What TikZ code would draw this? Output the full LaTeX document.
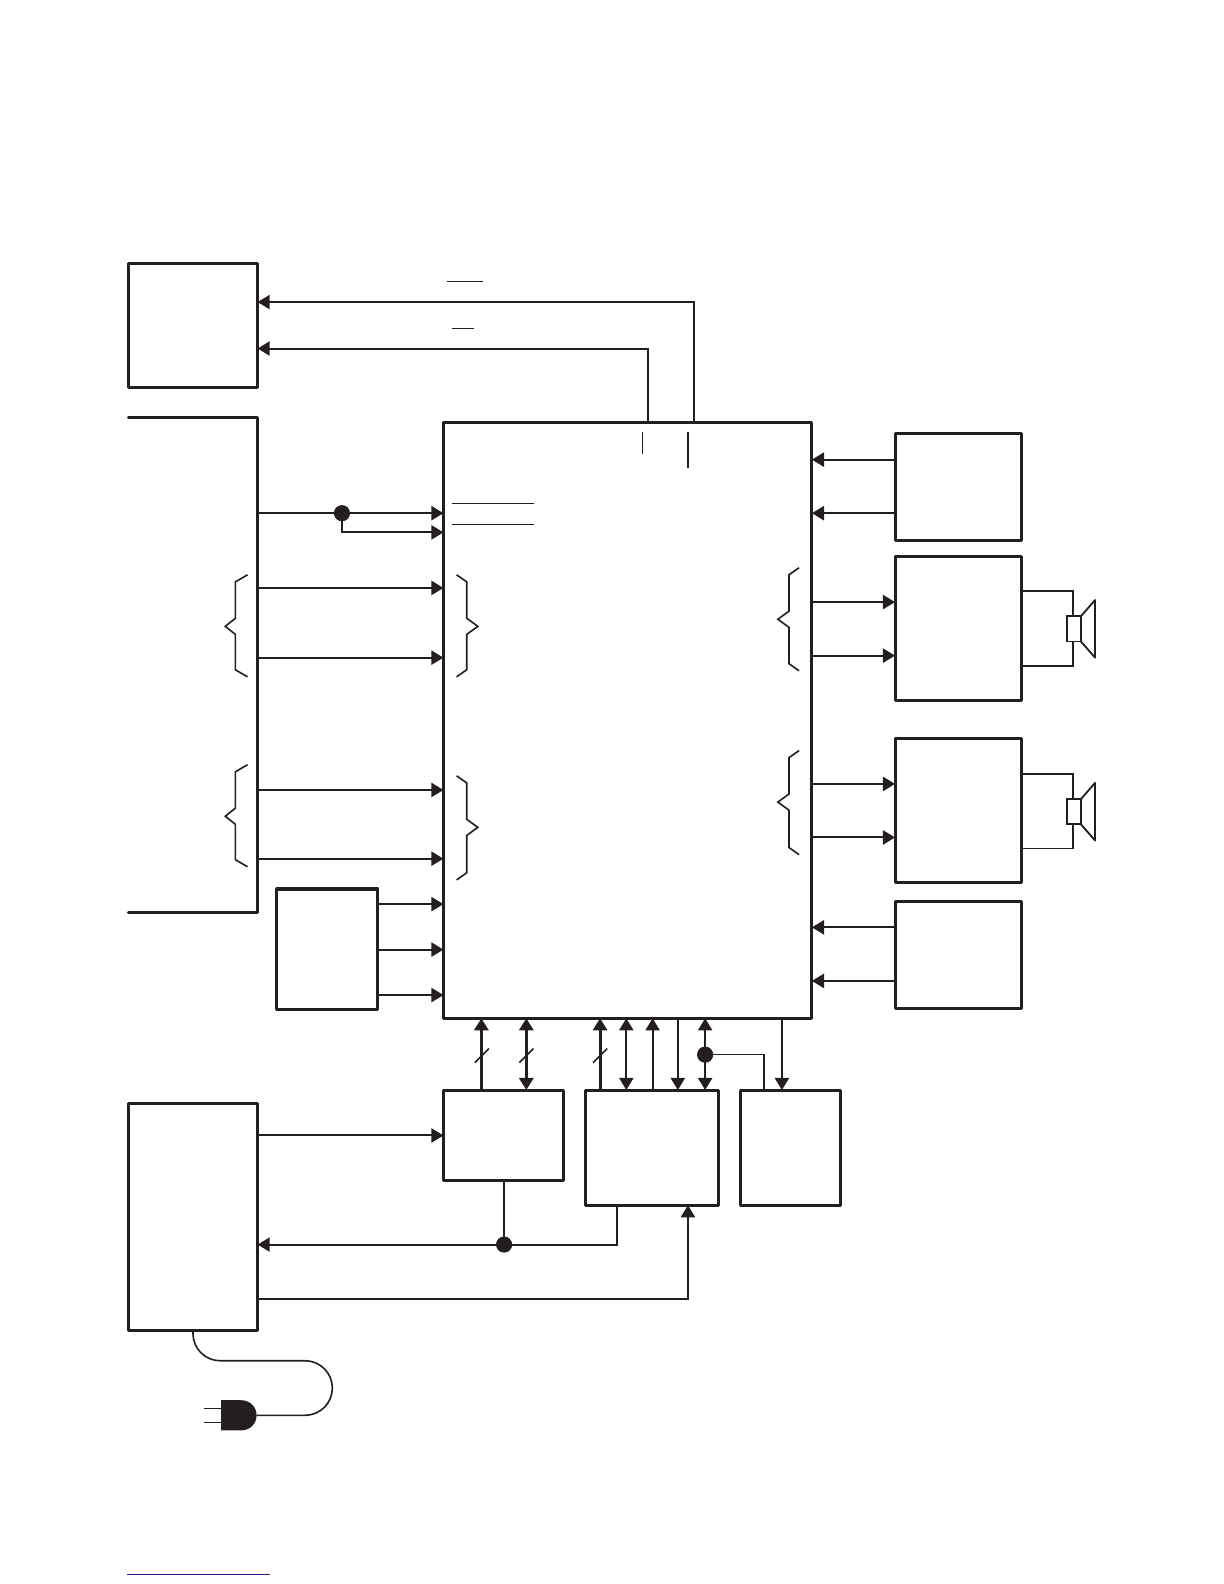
\documentclass[tikz,border=0pt]{standalone}
\usetikzlibrary{arrows.meta}
\definecolor{ink}{HTML}{231F20}
\tikzset{
  boxnode/.style={draw=ink,line width=3pt,line join=round,inner sep=0pt,outer sep=0pt,rectangle},
  wire/.style={draw=ink,line width=2pt,line join=miter},
  heavy/.style={draw=ink,line width=3pt},
  fine/.style={draw=ink,line width=1.1pt},
  brace/.style={draw=ink,line width=1.6pt,line join=miter},
  tipend/.style={-{Triangle[length=12pt,width=14pt]}},
  tipboth/.style={{Triangle[length=12pt,width=14pt]}-{Triangle[length=12pt,width=14pt]}},
  jointdot/.style={circle,fill=ink,draw=none,minimum size=16pt,inner sep=0pt,outer sep=0pt}
}
\newcommand{\bx}[5]{\node[boxnode,minimum width={(#4-#2)*1pt},minimum height={(#5-#3)*1pt}] (#1) at ({(#2+#4)/2},{(#3+#5)/2}) {};}
% left-opening brace: x tip, x spine, x end, y top, y middle, y bottom
\newcommand{\brc}[6]{\draw[brace] (#3,#4) -- (#2,{#4+7}) -- (#2,{#5-8}) -- (#1,#5) -- (#2,{#5+8}) -- (#2,{#6-7}) -- (#3,#6);}
\newcommand{\speaker}[3]{%
  \draw[wire,line width=1.6pt] (#1.east |- 0,{#2}) -- (1062,#2) -- (1062,{#2+25});
  \draw[wire,line width=1.6pt] (#1.east |- 0,{#3}) -- (1062,#3) -- (1062,{#3-24});
  \draw[draw=ink,line width=1.8pt] (1056,{#2+25}) rectangle (1070,{#3-24});
  \draw[draw=ink,line width=1.8pt,line join=round] (1070,{#2+25}) -- (1084,{#2+9}) -- (1084,{#3-8}) -- (1070,{#3-24});
}
\begin{document}
\begin{tikzpicture}[x=1pt,y=-1pt]
\useasboundingbox (0,0) rectangle (1211.6,1568);
% blocks
\bx{topbox}{127}{261}{255}{383.6}
\bx{main}{439}{418}{803.7}{1008}
\bx{cbox}{274}{880}{374}{999}
\bx{dbox}{886}{429}{1011}{535}
\bx{ebox}{886}{551}{1011}{693}
\bx{fbox}{886}{731}{1011}{874}
\bx{gbox}{886}{892}{1011}{998}
\bx{hbox}{439}{1079}{558}{1168.5}
\bx{ibox}{580}{1079}{711.7}{1193}
\bx{jbox}{733}{1079}{832}{1193}
\bx{kbox}{127}{1092}{255}{1317}
% open block on the left
\coordinate (bTL) at (127,413);
\coordinate (bTR) at (255,413);
\coordinate (bBR) at (255,903);
\coordinate (bBL) at (127,903);
\draw[heavy,line join=round,line cap=round] (bTL) -- (bTR) -- (bBR) -- (bBL);
% top lines to the first block
\draw[wire,tipend] (main.north -| 687,0) -- (687,299) -- (topbox.east |- 0,299);
\draw[wire,tipend] (main.north -| 641,0) -- (641,345) -- (topbox.east |- 0,345);
% bars and overlines
\draw[fine] (442,279) -- (478,279);
\draw[fine] (447,325) -- (469,325);
\draw[fine] (636,428) -- (636,449);
\draw[fine] (681,428) -- (681,463);
\draw[fine] (447,498) -- (529,498);
\draw[fine] (447,519) -- (529,519);
% open block to main
\node[jointdot] (d1) at (338.5,508) {};
\draw[wire,tipend] (bTR |- d1) -- (main.west |- d1);
\draw[wire,tipend] (d1.center) -- (338.5,527) -- (main.west |- 0,527);
\foreach \yy in {582,651,782,850}{\draw[wire,tipend] (bTR |- 0,\yy) -- (main.west |- 0,\yy);}
\foreach \yy in {895,940,985}{\draw[wire,tipend] (cbox.east |- 0,\yy) -- (main.west |- 0,\yy);}
% braces
\brc{223}{233}{245}{569}{620}{670}
\brc{223}{233}{245}{757}{808}{858}
\brc{473}{462}{452}{569}{620}{670}
\brc{473}{462}{452}{768}{819}{871}
\brc{770}{781}{791}{562}{613}{664}
\brc{770}{781}{791}{743}{794}{846}
% right blocks
\foreach \yy in {455,508}{\draw[wire,tipend] (dbox.west |- 0,\yy) -- (main.east |- 0,\yy);}
\foreach \yy in {596,649}{\draw[wire,tipend] (main.east |- 0,\yy) -- (ebox.west |- 0,\yy);}
\foreach \yy in {776,829}{\draw[wire,tipend] (main.east |- 0,\yy) -- (fbox.west |- 0,\yy);}
\foreach \yy in {918,971}{\draw[wire,tipend] (gbox.west |- 0,\yy) -- (main.east |- 0,\yy);}
\speaker{ebox}{585}{659}
\speaker{fbox}{766}{840}
% bottom buses
\draw[heavy,tipend] (hbox.north -| 476.5,0) -- (main.south -| 476.5,0);
\draw[heavy,tipboth] (main.south -| 521,0) -- (hbox.north -| 521,0);
\draw[heavy,tipend] (ibox.north -| 594,0) -- (main.south -| 594,0);
\draw[wire,tipboth] (main.south -| 620,0) -- (ibox.north -| 620,0);
\draw[wire,tipend] (ibox.north -| 646,0) -- (main.south -| 646,0);
\draw[wire,tipend] (main.south -| 671,0) -- (ibox.north -| 671,0);
\draw[wire,tipboth] (main.south -| 698,0) -- (ibox.north -| 698,0);
\node[jointdot] (d2) at (698,1044) {};
\draw[wire,line width=1.6pt] (d2.center) -- (756,1044) -- (jbox.north -| 756,0);
\draw[wire,tipend] (main.south -| 774,0) -- (jbox.north -| 774,0);
\foreach \xx in {477,521,594}{\draw[fine,line width=1.5pt] ({\xx-7},1052) -- ({\xx+7},1038);}
% power block
\draw[wire,tipend] (kbox.east |- 0,1124) -- (hbox.west |- 0,1124);
\node[jointdot] (d3) at (499,1232) {};
\draw[wire] (hbox.south -| d3) -- (d3.center);
\draw[wire,tipend] (ibox.south -| 611,0) -- (611,1232) -- (kbox.east |- 0,1232);
\draw[wire,tipend] (kbox.east |- 0,1286) -- (681,1286) -- (ibox.south -| 681,0);
% cord and plug
\coordinate (plugnose) at (254,1401);
\draw[draw=ink,line width=1.6pt,rounded corners=27pt] (kbox.south -| 191,0) -- (191,1347) -- (329,1347) -- (329,1401) -- (plugnose);
\fill[ink] (219,1386) -- (238,1386) .. controls (248,1386) and (254,1393) .. (plugnose) .. controls (254,1409) and (248,1416) .. (238,1416) -- (219,1416) -- cycle;
\draw[draw=ink,line width=1.2pt] (202,1394) -- (220,1394);
\draw[draw=ink,line width=1.6pt] (202,1408) -- (220,1408);
% blue rule at the foot
\draw[draw={rgb,255:red,30;green,30;blue,140},line width=1pt] (126,1559) -- (267,1559);
\end{tikzpicture}
\end{document}
